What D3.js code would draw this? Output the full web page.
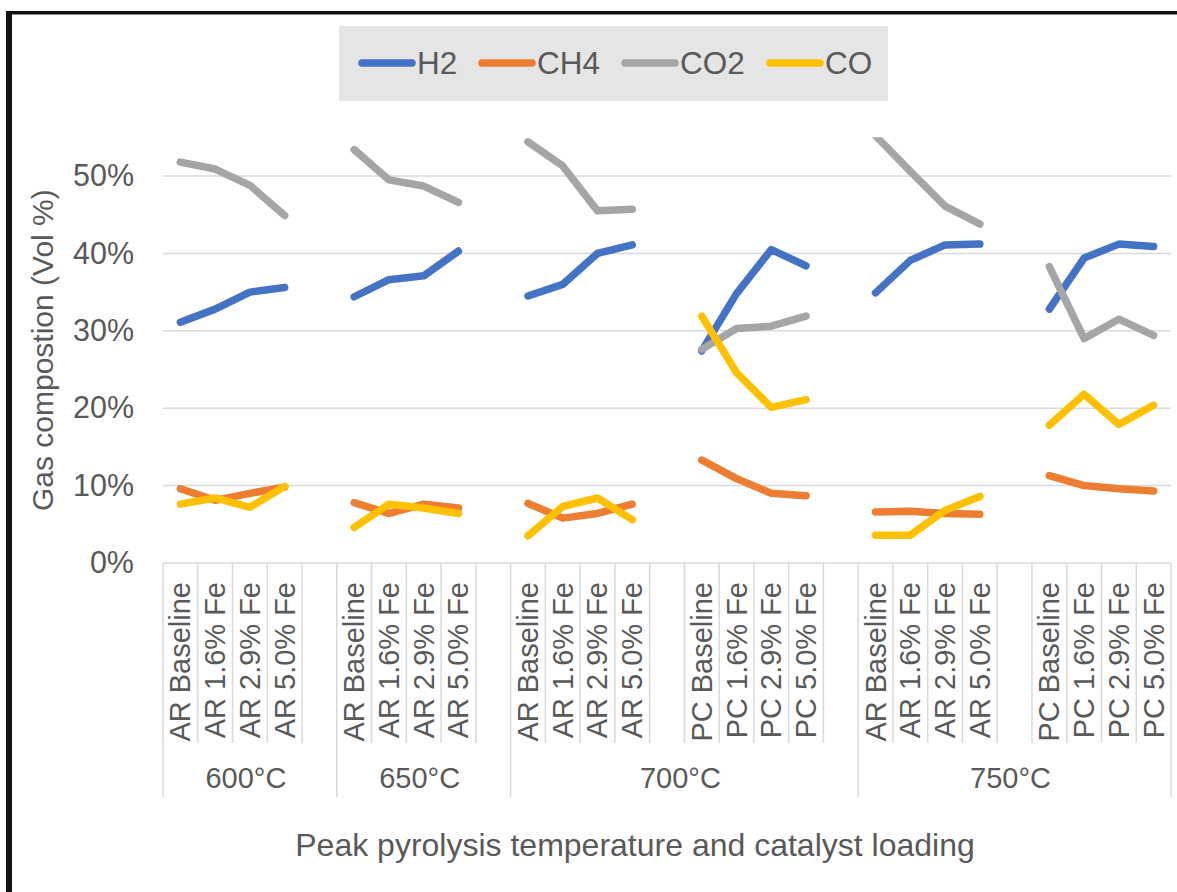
<!DOCTYPE html>
<html>
<head>
<meta charset="utf-8">
<script src="https://cdn.jsdelivr.net/npm/d3@7/dist/d3.min.js"></script>
<style>
  html, body { margin: 0; padding: 0; background: #fff; }
  svg { display: block; }
  text { font-family: "Liberation Sans", Arial, sans-serif; fill: #595959; }
</style>
</head>
<body>
<svg id="chart" width="1177" height="892"></svg>
<script>
// Outer level: peak pyrolysis temperature, with the number of slots each spans
const groupLabels = ["600°C", "650°C", "700°C", "750°C"];
const groupSizes = [5, 5, 10, 9];

// Inner level: sample / catalyst loading ("" = spacer slot between sets)
const categoryLabels = [
  "AR Baseline", "AR 1.6% Fe", "AR 2.9% Fe", "AR 5.0% Fe", "",
  "AR Baseline", "AR 1.6% Fe", "AR 2.9% Fe", "AR 5.0% Fe", "",
  "AR Baseline", "AR 1.6% Fe", "AR 2.9% Fe", "AR 5.0% Fe", "",
  "PC Baseline", "PC 1.6% Fe", "PC 2.9% Fe", "PC 5.0% Fe", "",
  "AR Baseline", "AR 1.6% Fe", "AR 2.9% Fe", "AR 5.0% Fe", "",
  "PC Baseline", "PC 1.6% Fe", "PC 2.9% Fe", "PC 5.0% Fe"
];

// Gas composition, vol %
const h2 = [31.1, 32.8, 35.0, 35.6, null, 34.4, 36.6, 37.1, 40.3, null,
            34.5, 36.0, 40.0, 41.1, null, 27.4, 34.8, 40.5, 38.4, null,
            34.9, 39.1, 41.1, 41.2, null, 32.8, 39.4, 41.2, 40.9];
const ch4 = [9.6, 8.1, 9.0, 9.8, null, 7.8, 6.4, 7.6, 7.1, null,
             7.7, 5.8, 6.4, 7.6, null, 13.3, 10.9, 9.0, 8.7, null,
             6.6, 6.7, 6.4, 6.3, null, 11.3, 10.0, 9.6, 9.3];
const co2 = [51.8, 50.9, 48.8, 44.9, null, 53.4, 49.5, 48.7, 46.6, null,
             54.4, 51.3, 45.5, 45.7, null, 27.6, 30.3, 30.6, 31.9, null,
             55.2, 50.6, 46.1, 43.8, null, 38.3, 29.0, 31.5, 29.4];
const co = [7.6, 8.4, 7.2, 9.9, null, 4.6, 7.6, 7.1, 6.4, null,
            3.5, 7.3, 8.4, 5.6, null, 31.9, 24.6, 20.1, 21.1, null,
            3.6, 3.6, 6.8, 8.6, null, 17.8, 21.8, 17.9, 20.4];

const seriesNames = ["H2", "CH4", "CO2", "CO"];
const seriesColors = ["#4472C4", "#ED7D31", "#A5A5A5", "#FFC000"];
const yTicks = [0, 10, 20, 30, 40, 50];

const series = [h2, ch4, co2, co].map((values, i) => ({
  name: seriesNames[i], color: seriesColors[i], values
}));

const svg = d3.select("#chart");
const plot = { left: 163, right: 1171, top: 137.3, bottom: 563 };

const x = d3.scaleBand()
  .domain(d3.range(categoryLabels.length))
  .range([plot.left, plot.right])
  .padding(0);
const y = d3.scaleLinear().domain([0, 55]).range([plot.bottom, plot.top]);
const bw = x.bandwidth();

// Frame around the chart
svg.append("rect").attr("x", 6).attr("y", 11).attr("width", 6).attr("height", 892).attr("fill", "#111");
svg.append("rect").attr("x", 6).attr("y", 11).attr("width", 1177).attr("height", 3.5).attr("fill", "#111");

// Horizontal gridlines
svg.append("g")
  .selectAll("line")
  .data(yTicks.filter(t => t > 0))
  .join("line")
  .attr("x1", plot.left).attr("x2", plot.right)
  .attr("y1", d => y(d)).attr("y2", d => y(d))
  .attr("stroke", "#d9d9d9").attr("stroke-width", 1.5);

// Y axis labels
const yAxis = svg.append("g")
  .attr("transform", `translate(${plot.left - 29},0)`)
  .call(d3.axisLeft(y).tickValues(yTicks).tickSize(0).tickPadding(0).tickFormat(d => d + "%"));
yAxis.select(".domain").remove();
yAxis.selectAll("text")
  .style("font-family", '"Liberation Sans", Arial, sans-serif')
  .style("font-size", "30.5px")
  .attr("fill", "#595959");

// Y axis title
svg.append("text")
  .attr("transform", `translate(42,${(plot.top + plot.bottom) / 2}) rotate(-90)`)
  .attr("text-anchor", "middle")
  .attr("dominant-baseline", "central")
  .style("font-size", "30px")
  .text("Gas compostion (Vol %)");

// Category axis: baseline, slot dividers, group dividers
const axisG = svg.append("g");
axisG.append("line")
  .attr("x1", plot.left).attr("x2", plot.right)
  .attr("y1", plot.bottom).attr("y2", plot.bottom)
  .attr("stroke", "#d9d9d9").attr("stroke-width", 1.5);

const groupEdges = [0];
groupSizes.forEach(s => groupEdges.push(groupEdges[groupEdges.length - 1] + s));

const slotEdges = d3.range(categoryLabels.length + 1);
axisG.selectAll("line.slot")
  .data(slotEdges)
  .join("line")
  .attr("class", "slot")
  .attr("x1", i => (i < categoryLabels.length ? x(i) : plot.right))
  .attr("x2", i => (i < categoryLabels.length ? x(i) : plot.right))
  .attr("y1", plot.bottom)
  .attr("y2", i => (groupEdges.includes(i) ? 797 : 743))
  .attr("stroke", "#d9d9d9").attr("stroke-width", 1.5);

// Category labels (rotated)
axisG.selectAll("text.cat")
  .data(categoryLabels.map((label, i) => ({ label, i })).filter(d => d.label))
  .join("text")
  .attr("class", "cat")
  .attr("transform", d => `translate(${x(d.i) + bw / 2},582) rotate(-90)`)
  .attr("text-anchor", "end")
  .attr("dominant-baseline", "central")
  .style("font-size", "29px")
  .text(d => d.label);

// Temperature group labels
axisG.selectAll("text.grp")
  .data(groupLabels.map((label, g) => ({ label, g })))
  .join("text")
  .attr("class", "grp")
  .attr("x", d => {
    const a = x(groupEdges[d.g]);
    const bEnd = groupEdges[d.g + 1] < categoryLabels.length ? x(groupEdges[d.g + 1]) : plot.right;
    return (a + bEnd) / 2 - 4;
  })
  .attr("y", 778)
  .attr("text-anchor", "middle")
  .attr("dominant-baseline", "central")
  .style("font-size", "29px")
  .text(d => d.label);

// X axis title
svg.append("text")
  .attr("x", 635).attr("y", 845)
  .attr("text-anchor", "middle")
  .attr("dominant-baseline", "central")
  .style("font-size", "32px")
  .text("Peak pyrolysis temperature and catalyst loading");

// Series lines, clipped to the plot area
svg.append("clipPath").attr("id", "plotClip")
  .append("rect")
  .attr("x", plot.left - 10).attr("y", plot.top)
  .attr("width", plot.right - plot.left + 20).attr("height", plot.bottom - plot.top + 10);

const line = d3.line()
  .defined(d => d != null)
  .x((d, i) => x(i) + bw / 2)
  .y(d => y(d));

svg.append("g").attr("clip-path", "url(#plotClip)")
  .selectAll("path")
  .data(series)
  .join("path")
  .attr("d", s => line(s.values))
  .attr("fill", "none")
  .attr("stroke", s => s.color)
  .attr("stroke-width", 7.5)
  .attr("stroke-linecap", "round")
  .attr("stroke-linejoin", "round");

// Legend
const legend = svg.append("g");
legend.append("rect")
  .attr("x", 339).attr("y", 26).attr("width", 549).attr("height", 75)
  .attr("fill", "#e5e5e5");
const legendX = [362, 482, 625, 770];
const items = legend.selectAll("g.item")
  .data(series)
  .join("g")
  .attr("class", "item")
  .attr("transform", (d, i) => `translate(${legendX[i]},63)`);
items.append("line")
  .attr("x1", 0).attr("x2", 50).attr("y1", 0).attr("y2", 0)
  .attr("stroke", d => d.color).attr("stroke-width", 7.5)
  .attr("stroke-linecap", "round");
items.append("text")
  .attr("x", 55).attr("y", 0)
  .attr("dominant-baseline", "central")
  .style("font-size", "31.5px")
  .text(d => d.name);
</script>
</body>
</html>
